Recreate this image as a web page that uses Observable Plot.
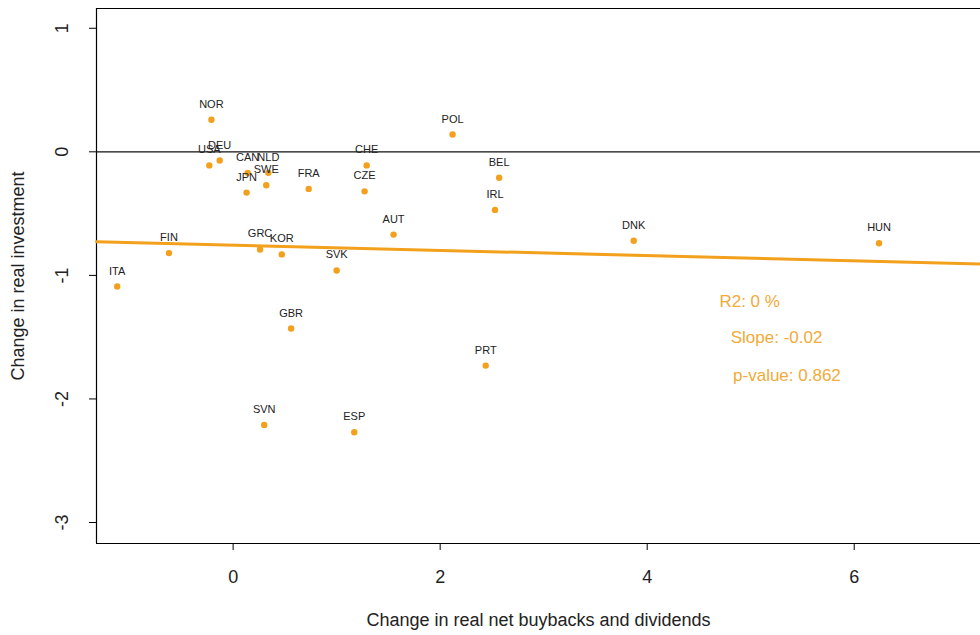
<!DOCTYPE html>
<html>
<head>
<meta charset="utf-8">
<script src="https://cdn.jsdelivr.net/npm/d3@7"></script>
<script src="https://cdn.jsdelivr.net/npm/@observablehq/plot@0.6"></script>
<style>
  html, body { margin: 0; padding: 0; background: #fff; }
  #chart svg { display: block; }
</style>
</head>
<body>
<div id="chart"></div>
<script>
const countries = ["NOR","USA","DEU","CAN","NLD","JPN","SWE","FRA","CHE","CZE","POL","BEL","IRL","AUT","DNK","HUN","ITA","FIN","GRC","KOR","SVK","GBR","PRT","SVN","ESP"];
const buybacks  = [-0.21,-0.23,-0.13,0.14,0.34,0.13,0.32,0.73,1.29,1.27,2.12,2.57,2.53,1.55,3.87,6.24,-1.12,-0.62,0.26,0.47,1.00,0.56,2.44,0.30,1.17];
const investment = [0.26,-0.11,-0.07,-0.17,-0.17,-0.33,-0.27,-0.30,-0.11,-0.32,0.14,-0.21,-0.47,-0.67,-0.72,-0.74,-1.09,-0.82,-0.79,-0.83,-0.96,-1.43,-1.73,-2.21,-2.27];

const xTicks = [0, 2, 4, 6];
const yTicks = [1, 0, -1, -2, -3];

const fitIntercept = -0.756;
const fitSlope = -0.021;

const statLabels = ["R2: 0 %", "Slope: -0.02", "p-value: 0.862"];
const statX = [4.99, 5.25, 5.35];
const statY = [-1.21, -1.50, -1.81];

const xTitle = "Change in real net buybacks and dividends";
const yTitle = "Change in real investment";

const xDomain = [-1.32, 7.22];
const yDomain = [-3.17, 1.16];

const points = countries.map((c, i) => ({country: c, x: buybacks[i], y: investment[i]}));
const fitLine = xDomain.map(x => ({x, y: fitIntercept + fitSlope * x}));
const stats = statLabels.map((t, i) => ({text: t, x: statX[i], y: statY[i]}));

const orange = "#f3a01c";
const font = "'Liberation Sans', Arial, sans-serif";

const chart = Plot.plot({
  width: 980,
  height: 635,
  marginLeft: 96,
  marginTop: 8,
  marginBottom: 92,
  marginRight: 0,
  style: {fontFamily: font, background: "#fff", color: "#000"},
  x: {domain: xDomain},
  y: {domain: yDomain},
  marks: [
    // frame (left, top, bottom)
    Plot.ruleX([xDomain[0]], {stroke: "#000", strokeWidth: 1.2}),
    Plot.ruleY([yDomain[0], yDomain[1]], {stroke: "#000", strokeWidth: 1.2}),
    // zero line
    Plot.ruleY([0], {stroke: "#111", strokeWidth: 1.3}),
    // regression line
    Plot.line(fitLine, {x: "x", y: "y", stroke: orange, strokeWidth: 3}),
    // ticks
    Plot.axisX({ticks: xTicks, tickSize: 7, tickFormat: () => "", label: null, stroke: "#000"}),
    Plot.axisY({ticks: yTicks, tickSize: 7, tickFormat: () => "", label: null, stroke: "#000"}),
    // tick labels
    Plot.text(xTicks, {x: d => d, frameAnchor: "bottom", textAnchor: "middle", lineAnchor: "top", dy: 27, text: d => String(d), fontSize: 18, fill: "#222"}),
    Plot.text(yTicks, {y: d => d, frameAnchor: "left", textAnchor: "middle", lineAnchor: "bottom", rotate: -90, dx: -29, text: d => String(d), fontSize: 18, fill: "#222"}),
    // axis titles
    Plot.text([xTitle], {frameAnchor: "bottom", textAnchor: "middle", dy: 82, text: d => d, fontSize: 18, fill: "#222"}),
    Plot.text([yTitle], {frameAnchor: "left", textAnchor: "middle", rotate: -90, dx: -78, text: d => d, fontSize: 18, fill: "#222"}),
    // points and labels
    Plot.dot(points, {x: "x", y: "y", r: 3.2, fill: orange, stroke: "none"}),
    Plot.text(points, {x: "x", y: "y", text: "country", dy: -15.5, fontSize: 11, fill: "#222"}),
    // stats annotations
    Plot.text(stats, {x: "x", y: "y", text: "text", fontSize: 17, fill: "#f2aa38"})
  ]
});

document.getElementById("chart").appendChild(chart);
</script>
</body>
</html>
